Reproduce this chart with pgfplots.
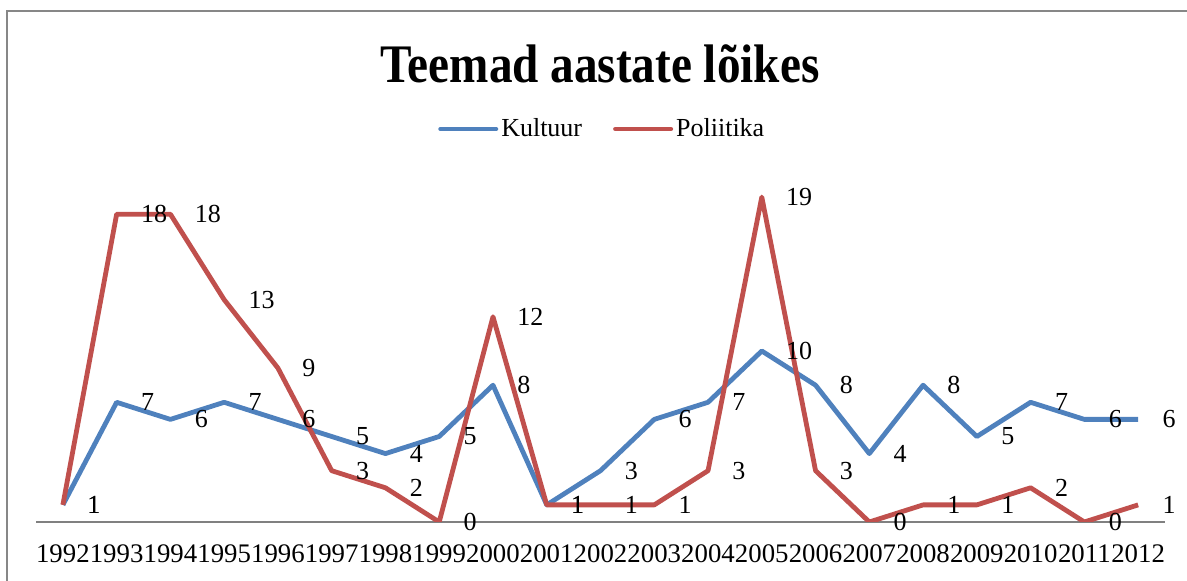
\documentclass[border=0pt]{standalone}
\usepackage{fontspec}
\setmainfont{Liberation Serif}
\usepackage{pgfplots}
\pgfplotsset{compat=1.18}
\definecolor{kblue}{HTML}{4F81BD}
\definecolor{pred}{HTML}{C0504D}
\definecolor{frame}{HTML}{878787}
\begin{document}
\begin{tikzpicture}
\useasboundingbox (0,0) rectangle (593.5pt,290.5pt);
\draw[frame, line width=1pt] (3.5pt,0) -- (3.5pt,285pt) -- (593.5pt,285pt);
\begin{axis}[
  at={(18pt,29.5pt)}, anchor=south west,
  scale only axis, width=564.5pt, height=171pt,
  xmin=-0.5, xmax=20.5, ymin=0, ymax=20,
  axis x line=bottom, axis y line=none,
  x axis line style={-, draw=gray, line width=0.6pt},
  xtick={0,...,20},
  xticklabels={1992,1993,1994,1995,1996,1997,1998,1999,2000,2001,2002,2003,2004,2005,2006,2007,2008,2009,2010,2011,2012},
  major tick length=0pt,
  xticklabel style={anchor=base, yshift=-20.5pt, inner sep=0pt, font=\fontsize{13.4pt}{16pt}\selectfont},
  /pgf/number format/assume math mode=true,
  nodes near coords,
  every node near coord/.append style={anchor=west, xshift=11pt, inner sep=0pt, text=black, font=\fontsize{13pt}{16pt}\selectfont},
  legend columns=2,
  legend style={at={(axis description cs:0.502,1.149)}, anchor=center, draw=none, fill=none,
    font=\fontsize{13pt}{16pt}\selectfont,
    /tikz/every even column/.append style={column sep=14pt},
    nodes={inner sep=1.5pt}},
  legend image code/.code={\draw[#1, line width=2pt, line cap=round] (0pt,0pt) -- (28pt,0pt);},
]
\addplot[kblue, line width=2.4pt, line join=round, mark=none] coordinates {
(0,1) (1,7) (2,6) (3,7) (4,6) (5,5) (6,4) (7,5) (8,8) (9,1) (10,3) (11,6) (12,7) (13,10) (14,8) (15,4) (16,8) (17,5) (18,7) (19,6) (20,6)};
\addlegendentry{Kultuur}
\addplot[pred, line width=2.4pt, line join=round, mark=none] coordinates {
(0,1) (1,18) (2,18) (3,13) (4,9) (5,3) (6,2) (7,0) (8,12) (9,1) (10,1) (11,1) (12,3) (13,19) (14,3) (15,0) (16,1) (17,1) (18,2) (19,0) (20,1)};
\addlegendentry{Poliitika}
\end{axis}
\node[font=\bfseries\fontsize{23.6pt}{28pt}\selectfont, yscale=1.15, inner sep=0pt] at (300pt,258.5pt) {Teemad aastate lõikes};
\end{tikzpicture}
\end{document}
